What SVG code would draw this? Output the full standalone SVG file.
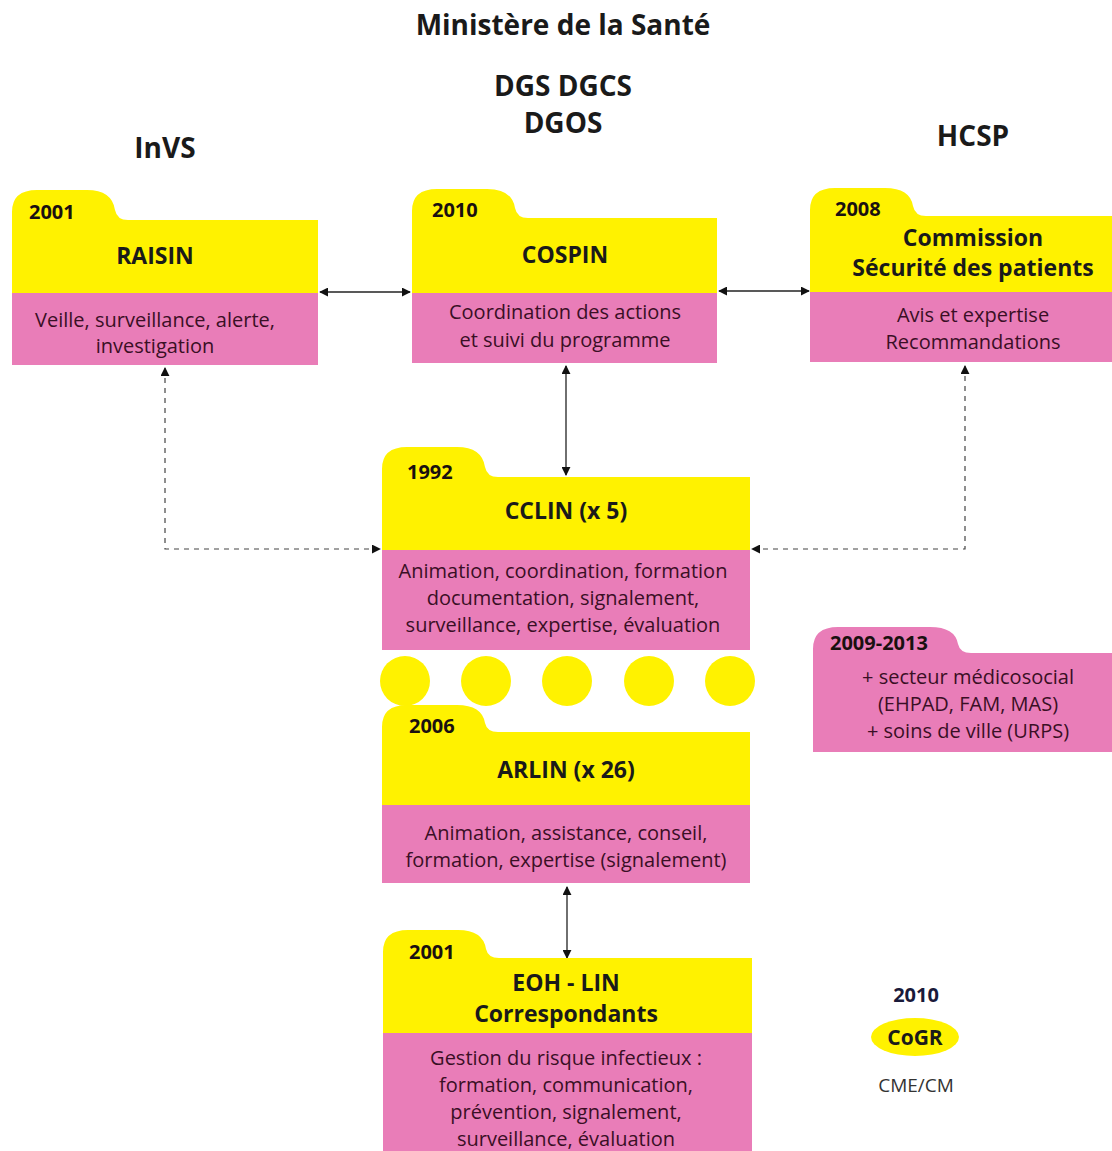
<svg xmlns="http://www.w3.org/2000/svg" width="1112" height="1151" viewBox="0 0 1112 1151">
<defs>
<style>
.y{fill:#FFF200}
.p{fill:#E97DB8}
.t{font-family:"Open Sans","Liberation Sans",Arial,sans-serif;fill:#1a1a1a;text-anchor:middle}
.h{font-weight:bold;font-size:28px}
.yr{font-weight:bold;font-size:20px;fill:#1a1010;text-anchor:start}
.nt{font-weight:bold;font-size:23px}
.b{font-size:20px;fill:#3a0f25}
.ln{stroke:#222;stroke-width:1.3;fill:none}
.ds{stroke:#444;stroke-width:1.2;fill:none;stroke-dasharray:5 5}
</style>
<marker id="ah" viewBox="0 0 10 10" refX="9" refY="5" markerWidth="9" markerHeight="9" orient="auto-start-reverse" markerUnits="userSpaceOnUse">
<path d="M0,0 L10,5 L0,10 Z" fill="#111"/>
</marker>
</defs>
<rect width="1112" height="1151" fill="#fff"/>

<g id="titles">
<text class="t h" x="563" y="35">Ministère de la Santé</text>
<text class="t h" x="563" y="96">DGS DGCS</text>
<text class="t h" x="563" y="133">DGOS</text>
<text class="t h" x="165" y="158">InVS</text>
<text class="t h" x="973" y="146">HCSP</text>
</g>

<g id="connectors">
<line class="ln" x1="320" y1="292" x2="410" y2="292" marker-start="url(#ah)" marker-end="url(#ah)"/>
<line class="ln" x1="719" y1="291" x2="809" y2="291" marker-start="url(#ah)" marker-end="url(#ah)"/>
<line class="ln" x1="566" y1="366" x2="566" y2="475" marker-start="url(#ah)" marker-end="url(#ah)"/>
<line class="ln" x1="567" y1="887" x2="567" y2="958" marker-start="url(#ah)" marker-end="url(#ah)"/>
<path class="ds" d="M165,368 V549 H380" marker-start="url(#ah)" marker-end="url(#ah)"/>
<path class="ds" d="M965,366 V549 H752" marker-start="url(#ah)" marker-end="url(#ah)"/>
</g>

<g id="raisin">
<path class="y" d="M12,293 V212 Q12,190 37,190 H87 Q112,190 115,210 Q117,220 128,220 H318 V293 Z"/>
<rect class="p" x="12" y="293" width="306" height="72"/>
<text class="t yr" x="29" y="219">2001</text>
<text class="t nt" x="155" y="264">RAISIN</text>
<text class="t b" x="155" y="327">Veille, surveillance, alerte,</text>
<text class="t b" x="155" y="353">investigation</text>
</g>

<g id="cospin">
<path class="y" d="M412,293 V211 Q412,189 437,189 H487 Q512,189 515,208 Q517,218 528,218 H717 V293 Z"/>
<rect class="p" x="412" y="293" width="305" height="70"/>
<text class="t yr" x="432" y="217">2010</text>
<text class="t nt" x="565" y="263">COSPIN</text>
<text class="t b" x="565" y="319">Coordination des actions</text>
<text class="t b" x="565" y="347">et suivi du programme</text>
</g>

<g id="commission">
<path class="y" d="M810,292 V210 Q810,188 835,188 H885 Q910,188 913,206 Q915,216 926,216 H1112 V292 Z"/>
<rect class="p" x="810" y="292" width="302" height="70"/>
<text class="t yr" x="835" y="216">2008</text>
<text class="t nt" x="973" y="246">Commission</text>
<text class="t nt" x="973" y="276">Sécurité des patients</text>
<text class="t b" x="973" y="322">Avis et expertise</text>
<text class="t b" x="973" y="349">Recommandations</text>
</g>

<g id="cclin">
<path class="y" d="M382,550 V469 Q382,447 407,447 H457 Q482,447 485,467 Q487,477 498,477 H750 V550 Z"/>
<rect class="p" x="382" y="550" width="368" height="100"/>
<text class="t yr" x="407" y="479">1992</text>
<text class="t nt" x="566" y="519">CCLIN (x 5)</text>
<text class="t b" x="563" y="578">Animation, coordination, formation</text>
<text class="t b" x="563" y="605">documentation, signalement,</text>
<text class="t b" x="563" y="632">surveillance, expertise, évaluation</text>
</g>

<g id="circles">
<circle class="y" cx="405" cy="681" r="25"/>
<circle class="y" cx="486" cy="681" r="25"/>
<circle class="y" cx="567" cy="681" r="25"/>
<circle class="y" cx="649" cy="681" r="25"/>
<circle class="y" cx="730" cy="681" r="25"/>
</g>

<g id="arlin">
<path class="y" d="M382,805 V727 Q382,705 407,705 H457 Q482,705 485,723 Q487,732 498,732 H750 V805 Z"/>
<rect class="p" x="382" y="805" width="368" height="78"/>
<text class="t yr" x="409" y="733">2006</text>
<text class="t nt" x="566" y="778">ARLIN (x 26)</text>
<text class="t b" x="566" y="840">Animation, assistance, conseil,</text>
<text class="t b" x="566" y="867">formation, expertise (signalement)</text>
</g>

<g id="eoh">
<path class="y" d="M383,1033 V952 Q383,930 408,930 H458 Q483,930 486,949 Q488,958 499,958 H752 V1033 Z"/>
<rect class="p" x="383" y="1033" width="369" height="118"/>
<text class="t yr" x="409" y="959">2001</text>
<text class="t nt" x="566" y="991">EOH - LIN</text>
<text class="t nt" x="566" y="1022">Correspondants</text>
<text class="t b" x="566" y="1065">Gestion du risque infectieux :</text>
<text class="t b" x="566" y="1092">formation, communication,</text>
<text class="t b" x="566" y="1119">prévention, signalement,</text>
<text class="t b" x="566" y="1146">surveillance, évaluation</text>
</g>

<g id="extension">
<path class="p" d="M813,752 V649 Q813,627 838,627 H930 Q955,627 958,644 Q960,653 971,653 H1112 V752 Z"/>
<text class="t yr" x="830" y="650">2009-2013</text>
<text class="t b" x="968" y="684">+ secteur médicosocial</text>
<text class="t b" x="968" y="711">(EHPAD, FAM, MAS)</text>
<text class="t b" x="968" y="738">+ soins de ville (URPS)</text>
</g>

<g id="cogr">
<text class="t" x="916" y="1002" style="font-weight:bold;font-size:20px;fill:#1a1a3a">2010</text>
<ellipse class="y" cx="915" cy="1037" rx="44" ry="19"/>
<text class="t" x="915" y="1045" style="font-weight:bold;font-size:21px">CoGR</text>
<text class="t" x="916" y="1092" style="font-size:19px;fill:#333">CME/CM</text>
</g>
</svg>
